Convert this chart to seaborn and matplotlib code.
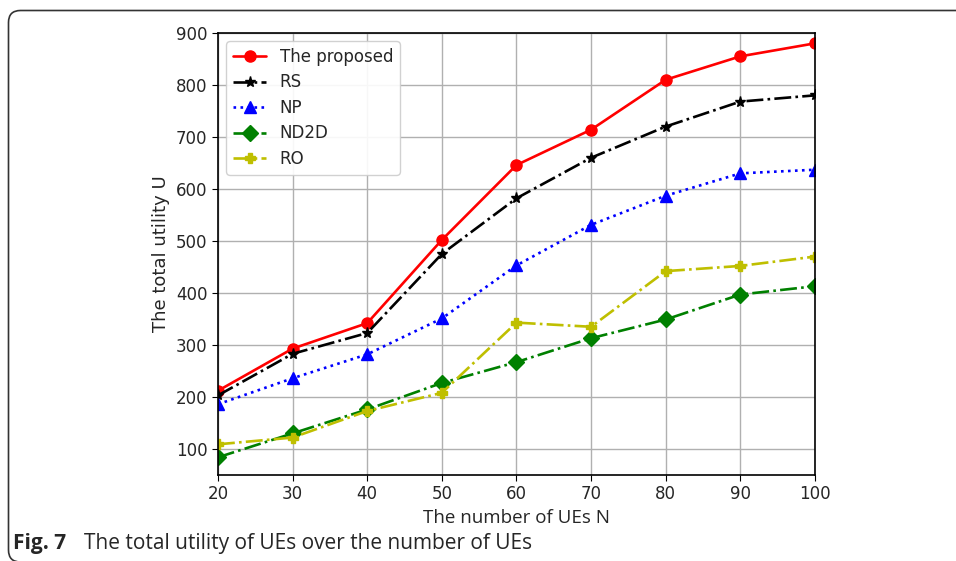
import matplotlib
matplotlib.use("Agg")
import matplotlib.pyplot as plt
from matplotlib.patches import PathPatch
from matplotlib.path import Path
import seaborn as sns
import pandas as pd

n_ues = [20, 30, 40, 50, 60, 70, 80, 90, 100]
proposed = [212, 293, 342, 502, 646, 714, 810, 855, 880]
rs = [203, 283, 323, 475, 582, 660, 720, 768, 780]
np_vals = [186, 236, 282, 351, 453, 531, 587, 630, 637]
nd2d = [84, 130, 176, 227, 267, 313, 349, 397, 413]
ro = [109, 122, 173, 208, 343, 335, 442, 452, 470]
y_ticks = [100, 200, 300, 400, 500, 600, 700, 800, 900]

sns.set_style("ticks")
plt.rcParams['font.family'] = ['DejaVu Sans']

W, H = 956, 561
fig = plt.figure(figsize=(W / 100, H / 100), dpi=100)
ax = fig.add_axes([0.228, 0.1533, 0.6245, 0.788])

series = [
    ("The proposed", proposed, dict(color="#ff0000", linestyle="-", marker="o", markersize=8)),
    ("RS", rs, dict(color="black", linestyle="-.", marker="*", markersize=8)),
    ("NP", np_vals, dict(color="#0000ff", linestyle=":", marker="^", markersize=8)),
    ("ND2D", nd2d, dict(color="#008000", linestyle="-.", marker="D", markersize=8)),
    ("RO", ro, dict(color="#bfbf00", linestyle="-.", marker="P", markersize=7)),
]
for name, vals, kw in series:
    df = pd.DataFrame({"N": n_ues, "U": vals})
    sns.lineplot(data=df, x="N", y="U", ax=ax, label=name, linewidth=1.9,
                 markeredgewidth=1, markeredgecolor=kw["color"], **kw)

ax.set_xlim(20, 100)
ax.set_ylim(50, 900)
ax.set_xticks(n_ues)
ax.set_yticks(y_ticks)
ax.grid(True, color="#b0b0b0", linewidth=1)
ax.tick_params(labelsize=12, direction="out", length=4, color="black")
for s in ax.spines.values():
    s.set_color("black")
    s.set_linewidth(1.2)
ax.set_xlabel("The number of UEs N", fontsize=13.5, family=["Open Sans", "DejaVu Sans"])
ax.set_ylabel("The total utility U", fontsize=13)
ax.legend(loc="upper left", fontsize=12, frameon=True, fancybox=True,
          framealpha=0.9, edgecolor="#cccccc", handlelength=2,
          borderpad=0.4, labelspacing=0.45)

# surrounding figure frame: open on the right and bottom (runs off the image)
r = 12.0
x0, top, bot = 8.5, 10.5, 562.0
pts_px = [(W + 5, top), (x0 + r, top), (x0, top), (x0, top + r),
          (x0, bot - r), (x0, bot), (x0 + r, bot), (W + 5, bot)]
codes = [Path.MOVETO, Path.LINETO, Path.CURVE3, Path.CURVE3,
         Path.LINETO, Path.CURVE3, Path.CURVE3, Path.LINETO]
pts = [(px / W, 1 - py / H) for px, py in pts_px]
frame = PathPatch(Path(pts, codes), transform=fig.transFigure, fill=False,
                  edgecolor="#333333", linewidth=1.2, clip_on=False)
fig.patches.append(frame)

fig.text(13 / W, 1 - 544 / H, "Fig. 7", fontsize=15, fontweight="bold",
         family=["Open Sans", "DejaVu Sans"], va="center", ha="left")
fig.text(84 / W, 1 - 544 / H, "The total utility of UEs over the number of UEs",
         fontsize=15, family=["Open Sans", "DejaVu Sans"], va="center", ha="left")

fig.savefig("out.png", dpi=100)
